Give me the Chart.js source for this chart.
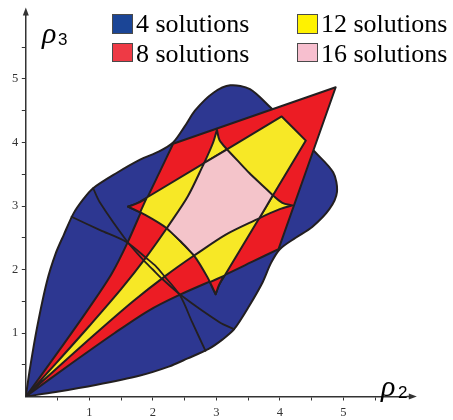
<!DOCTYPE html>
<html>
<head>
<meta charset="utf-8">
<script src="https://cdn.jsdelivr.net/npm/chart.js@4.4.1/dist/chart.umd.min.js"></script>
<style>
  body { margin: 0; background: #fff; }
  #wrap { position: relative; width: 453px; height: 420px; }
  .txt { position: absolute; white-space: nowrap; color: #000; line-height: 1; }
  .key { font: 26px 'Liberation Serif', serif; }
  .box { position: absolute; box-sizing: border-box; border: 1px solid #4a4a4a; }
</style>
</head>
<body>
<div id="wrap">
  <canvas id="regions" width="453" height="420"></canvas>
  <div id="legend"></div>
  <span class="txt" style="left:42px; top:15.9px; font:italic 30px 'Liberation Serif', serif;">ρ</span>
  <span class="txt" style="left:58px; top:29.9px; font:17px 'Liberation Sans', sans-serif;">3</span>
  <span class="txt" style="left:381px; top:368.7px; font:italic 30px 'Liberation Serif', serif;">ρ</span>
  <span class="txt" style="left:398px; top:382.6px; font:17px 'Liberation Sans', sans-serif;">2</span>
</div>
<script>
// region outlines in (rho2, rho3) coordinates
const blobOutline = [
  [0, 0], [0.07, 0.47], [0.18, 1.1], [0.33, 1.8], [0.47, 2.25], [0.6, 2.55], [0.75, 2.88], [0.9, 3.1],
  [1.06, 3.28], [1.43, 3.52], [1.8, 3.73], [2.1, 3.86], [2.32, 4.0], [2.5, 4.25], [2.67, 4.51], [2.95, 4.78],
  [3.22, 4.9], [3.53, 4.84], [3.9, 4.51], [4.05, 4.4], [4.3, 4.3],
  [4.4, 4.05], [4.51, 3.9], [4.84, 3.53], [4.9, 3.22], [4.78, 2.95], [4.51, 2.67], [4.25, 2.5], [4.0, 2.32],
  [3.86, 2.1], [3.73, 1.8], [3.52, 1.43], [3.28, 1.06], [3.1, 0.9], [2.88, 0.75], [2.55, 0.6], [2.25, 0.47],
  [1.8, 0.33], [1.1, 0.18], [0.47, 0.07], [0, 0]
]
const outerLens = [
  [0, 0], [0.5, 0.69], [1.0, 1.4], [1.35, 1.93], [1.6, 2.42], [1.9, 3.1], [2.12, 3.56], [2.32, 3.98], [2.32, 3.98],
  [4.88, 4.87], [4.88, 4.87],
  [3.98, 2.32], [3.98, 2.32], [3.56, 2.12], [3.1, 1.9], [2.42, 1.6], [1.93, 1.35], [1.4, 1.0], [0.69, 0.5], [0, 0]
]
const kiteLens = [
  [0, 0], [0.5, 0.55], [1.0, 1.11], [1.5, 1.69], [1.9, 2.2], [2.22, 2.65], [2.55, 3.15], [2.81, 3.68], [2.95, 4.0],
  [3.01, 4.2], [3.01, 4.2],
  [3.05, 4.04], [3.17, 3.89], [3.34, 3.71], [3.52, 3.52], [3.71, 3.34], [3.89, 3.17], [4.04, 3.05],
  [4.2, 3.01], [4.2, 3.01],
  [4.0, 2.95], [3.68, 2.81], [3.15, 2.55], [2.65, 2.22], [2.2, 1.9], [1.69, 1.5], [1.11, 1.0], [0.55, 0.5], [0, 0]
]
const cuspLens = [
  [1.61, 2.99], [1.75, 3.04], [1.9, 3.13], [4.03, 4.41], [4.03, 4.41],
  [4.41, 4.03], [4.41, 4.03], [3.13, 1.9], [3.04, 1.75], [2.99, 1.61], [2.99, 1.61],
  [2.86, 1.88], [2.65, 2.22], [2.44, 2.44], [2.22, 2.65], [1.88, 2.86], [1.61, 2.99]
]
const centre = [
  [2.22, 2.65], [2.55, 3.15], [2.81, 3.68], [2.81, 3.68], [3.17, 3.89], [3.17, 3.89],
  [3.34, 3.71], [3.52, 3.52], [3.71, 3.34], [3.89, 3.17], [3.89, 3.17], [3.68, 2.81], [3.68, 2.81],
  [3.15, 2.55], [2.65, 2.22], [2.65, 2.22], [2.44, 2.44], [2.22, 2.65]
]
const cuspLeft = [[1.61, 2.99], [1.75, 3.04], [1.9, 3.12], [1.9, 3.12], [1.8, 2.9], [1.8, 2.9], [1.61, 2.99]]
const cuspBottom = [[2.99, 1.61], [3.04, 1.75], [3.12, 1.9], [3.12, 1.9], [2.9, 1.8], [2.9, 1.8], [2.99, 1.61]]
const arcOne = [[0.72, 2.83], [1.17, 2.62], [1.59, 2.43], [1.91, 2.17], [2.05, 2.05], [2.17, 1.91], [2.43, 1.59], [2.62, 1.17], [2.83, 0.72]]
const arcTwo = [[1.06, 3.28], [1.17, 3.05], [1.59, 2.45], [1.85, 2.15], [2.0, 2.0], [2.15, 1.85], [2.45, 1.59], [3.05, 1.17], [3.28, 1.06]]

const legendLabels = ['4 solutions', '8 solutions', '12 solutions', '16 solutions']
const legendColors = ['#1b4596', '#ee3a45', '#fff200', '#f7bfcf']
const axisTicks = [1, 2, 3, 4, 5]

const BLUE = '#2d3791', RED = '#ec1c24', YELLOW = '#f7e826', PINK = '#f4c4ca', EDGE = '#231f20'

const toPts = arr => arr.map(([x, y]) => ({ x, y }))

function region(label, pts, color, order) {
    return {
        label, data: toPts(pts), order,
        showLine: true, fill: 'shape', backgroundColor: color,
        borderColor: EDGE, borderWidth: 2, borderJoinStyle: 'round', borderCapStyle: 'round',
        pointRadius: 0, pointHoverRadius: 0, tension: 0.3
    }
}
function curve(label, pts, order) {
    return {
        label, data: toPts(pts), order,
        showLine: true, fill: false, borderColor: EDGE, borderWidth: 1.8,
        borderCapStyle: 'round', pointRadius: 0, pointHoverRadius: 0, tension: 0.3
    }
}

const axisArrows = {
    id: 'axisArrows',
    afterDraw(chart) {
        const { ctx, chartArea: a } = chart
        ctx.save()
        ctx.strokeStyle = '#333'
        ctx.fillStyle = '#333'
        ctx.lineWidth = 1.5
        ctx.beginPath()
        ctx.moveTo(a.right, a.bottom); ctx.lineTo(a.right + 4, a.bottom)
        ctx.moveTo(a.left, a.top); ctx.lineTo(a.left, a.top - 3)
        ctx.stroke()
        ctx.beginPath()
        ctx.moveTo(a.right + 10, a.bottom); ctx.lineTo(a.right + 2, a.bottom - 3); ctx.lineTo(a.right + 2, a.bottom + 3)
        ctx.closePath(); ctx.fill()
        ctx.beginPath()
        ctx.moveTo(a.left, a.top - 8); ctx.lineTo(a.left - 3, a.top); ctx.lineTo(a.left + 3, a.top)
        ctx.closePath(); ctx.fill()
        ctx.restore()
    }
}

const tickFont = { family: 'Liberation Serif', size: 12.5 }
const tickLabel = v => axisTicks.includes(v) ? String(v) : ''
const tickColor = c => (c.tick && c.tick.value > 0 && c.tick.value < 5.75) ? '#333' : 'rgba(0,0,0,0)'

new Chart(document.getElementById('regions').getContext('2d'), {
    type: 'scatter',
    data: {
        datasets: [
            region('4 solutions', blobOutline, BLUE, 8),
            region('8 solutions', outerLens, RED, 7),
            region('12 solutions a', kiteLens, YELLOW, 6),
            region('12 solutions b', cuspLens, YELLOW, 5),
            region('16 solutions', centre, PINK, 4),
            region('8 solutions cusp a', cuspLeft, RED, 3),
            region('8 solutions cusp b', cuspBottom, RED, 3),
            curve('arc 1', arcOne, 1),
            curve('arc 2', arcTwo, 1)
        ]
    },
    options: {
        responsive: false,
        animation: false,
        events: [],
        layout: { padding: { top: 15.5, right: 46.2, left: 0, bottom: 0 } },
        plugins: { legend: { display: false }, tooltip: { enabled: false } },
        scales: {
            x: {
                type: 'linear', min: 0, max: 6,
                afterFit: s => { s.height = 23.5 },
                ticks: { stepSize: 0.5, autoSkip: false, maxRotation: 0, minRotation: 0, padding: 5, font: tickFont, color: '#333', callback: tickLabel },
                grid: { drawOnChartArea: false, drawTicks: true, tickLength: 4, color: tickColor },
                border: { display: true, color: '#333', width: 1.5 }
            },
            y: {
                type: 'linear', min: 0, max: 6,
                afterFit: s => { s.width = 25.8 },
                ticks: { stepSize: 0.5, autoSkip: false, padding: 3.5, font: tickFont, color: '#333', callback: tickLabel },
                grid: { drawOnChartArea: false, drawTicks: true, tickLength: 4, color: tickColor },
                border: { display: true, color: '#333', width: 1.5 }
            }
        }
    },
    plugins: [axisArrows]
})

// legend in two columns, like the original figure
const legendBox = document.getElementById('legend')
const keyPos = [[112, 13.5, 20, 136], [112, 43, 19, 136], [297, 13.5, 20, 321], [297, 43, 19, 321]]
legendLabels.forEach((label, i) => {
    const [bx, by, bh, tx] = keyPos[i]
    const baseTop = i % 2 === 0 ? 9.2 : 38.7
    const box = document.createElement('div')
    box.className = 'box'
    box.style.cssText = `left:${bx}px; top:${by}px; width:21px; height:${bh}px; background:${legendColors[i]}`
    const text = document.createElement('span')
    text.className = 'txt key'
    text.style.cssText = `left:${tx}px; top:${baseTop}px`
    text.textContent = label
    legendBox.appendChild(box)
    legendBox.appendChild(text)
})
</script>
</body>
</html>
